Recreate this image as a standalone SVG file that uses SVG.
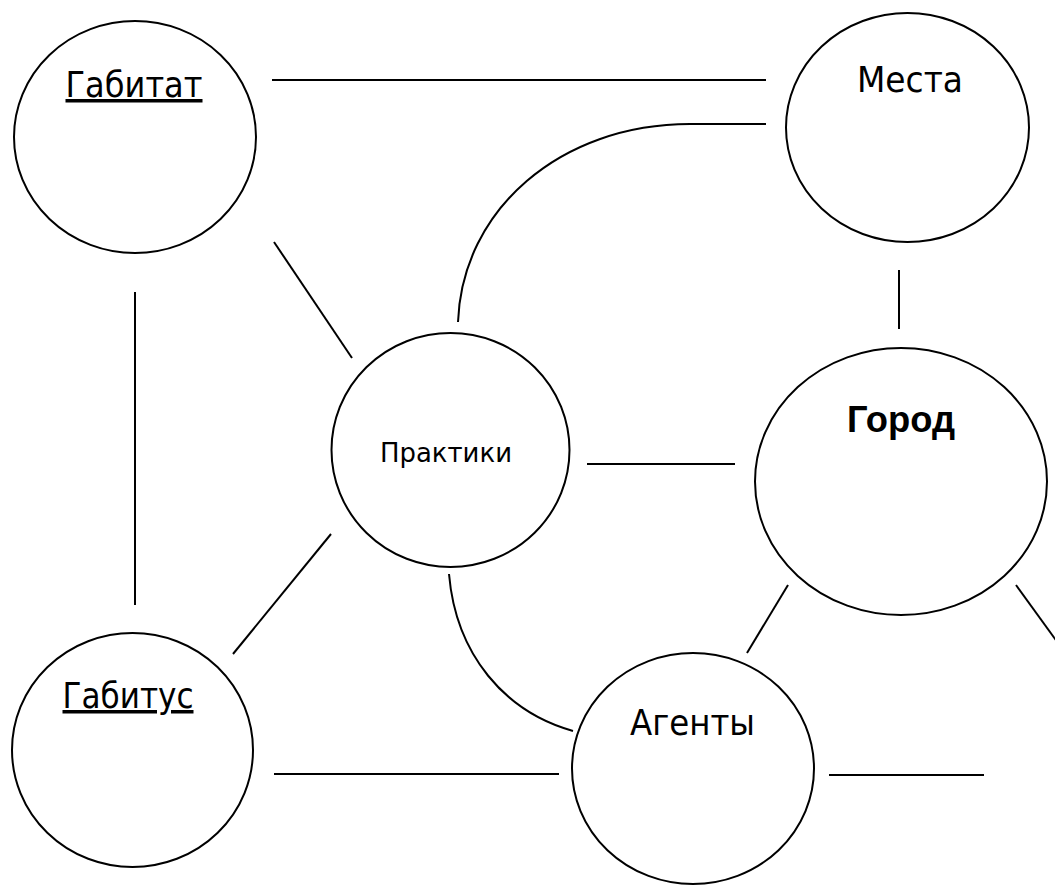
<svg xmlns="http://www.w3.org/2000/svg" width="1055" height="885" viewBox="0 0 1055 885">
<style>
.n{fill:#fff;stroke:#000;stroke-width:2}
.c line,.c path{stroke:#000;stroke-width:2;fill:none}
.t{font-family:"DejaVu Sans",Verdana,sans-serif;font-size:35px;fill:#000;text-anchor:middle}
.s{font-size:27px}
.b{font-family:"Liberation Sans",Arial,sans-serif;font-weight:bold;font-size:36px}
.u{text-decoration:underline}
</style>
<rect width="1055" height="885" fill="#fff"/>
<g class="c" id="connectors">
<line x1="272" y1="80" x2="766" y2="80"/>
<path d="M458,322 C 462,210 560,124 690,124 L766,124"/>
<line x1="899" y1="270" x2="899" y2="329"/>
<line x1="274" y1="242" x2="352" y2="358"/>
<line x1="135" y1="292" x2="135" y2="605"/>
<line x1="331" y1="534" x2="233" y2="654"/>
<line x1="587" y1="464" x2="735" y2="464"/>
<path d="M449,574 C 456,655 505,712 573,731"/>
<line x1="788" y1="585" x2="747" y2="653"/>
<line x1="1016" y1="585" x2="1058" y2="643"/>
<line x1="274" y1="774" x2="559" y2="774"/>
<line x1="829" y1="775" x2="984" y2="775"/>
</g>
<g id="habitat">
<ellipse class="n" cx="135" cy="137" rx="121" ry="116"/>
<text class="t u" x="134" y="97" textLength="137" lengthAdjust="spacingAndGlyphs">Габитат</text>
</g>
<g id="places">
<ellipse class="n" cx="907.5" cy="127.5" rx="121.5" ry="114.5"/>
<text class="t" x="910" y="92" textLength="106" lengthAdjust="spacingAndGlyphs">Места</text>
</g>
<g id="practices">
<ellipse class="n" cx="450.5" cy="450" rx="119" ry="117"/>
<text class="t s" x="446" y="462" textLength="132" lengthAdjust="spacingAndGlyphs">Практики</text>
</g>
<g id="city">
<ellipse class="n" cx="901" cy="481.5" rx="146" ry="133.5"/>
<text class="t b" x="901" y="432" textLength="108" lengthAdjust="spacingAndGlyphs">Город</text>
</g>
<g id="habitus">
<ellipse class="n" cx="132.5" cy="750" rx="120.5" ry="117"/>
<text class="t u" x="128" y="708" textLength="131" lengthAdjust="spacingAndGlyphs">Габитус</text>
</g>
<g id="agents">
<ellipse class="n" cx="693" cy="768.5" rx="121" ry="115.5"/>
<text class="t" x="692.5" y="735" textLength="125" lengthAdjust="spacingAndGlyphs">Агенты</text>
</g>
</svg>
